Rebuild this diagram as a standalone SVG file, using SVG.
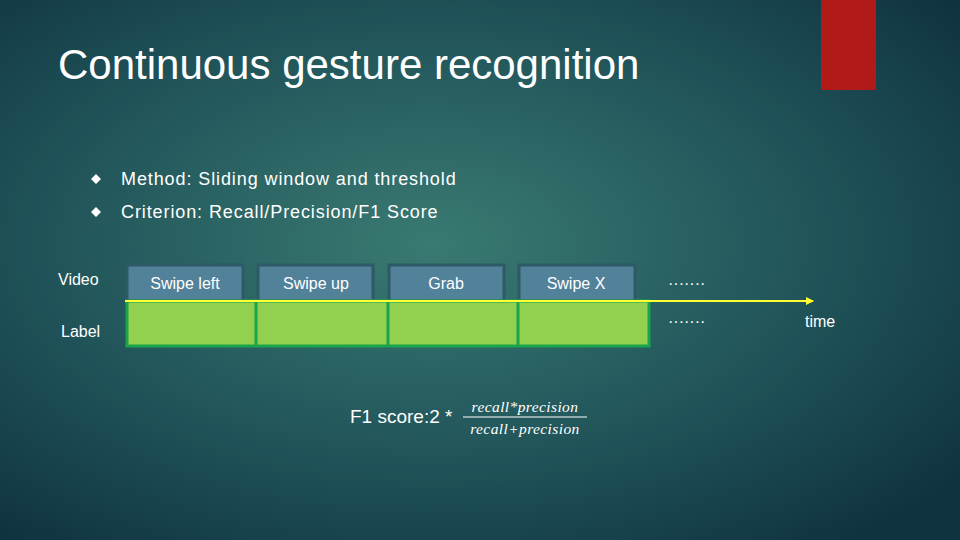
<svg xmlns="http://www.w3.org/2000/svg" width="960" height="540" viewBox="0 0 960 540">
<defs>
<radialGradient id="bg" cx="0.45" cy="0.45" r="0.7">
<stop offset="0" stop-color="#3a7a72"/>
<stop offset="0.6" stop-color="#1f5258"/>
<stop offset="1" stop-color="#103340"/>
</radialGradient>
<marker id="ah" markerWidth="8" markerHeight="8" refX="7" refY="4" orient="auto" markerUnits="userSpaceOnUse"><path d="M0,0 L8,4 L0,8 z" fill="#ffff33"/></marker>
<style>
text{font-family:"Liberation Sans",Arial,sans-serif;fill:#fff}
.v{fill:#52819a;stroke:#2d5a66;stroke-width:3}
.vt{font-size:16px;text-anchor:middle}
.b{font-size:18px;letter-spacing:0.9px}
.m{font-family:"Liberation Serif",serif;font-style:italic;font-size:15.5px;text-anchor:middle;letter-spacing:0.4px}
</style>
</defs>
<rect width="960" height="540" fill="url(#bg)"/>
<rect x="821" y="0" width="55" height="90" fill="#b01a18"/>
<text x="58" y="79" font-size="42">Continuous gesture recognition</text>
<path d="M96,174 l5,5 l-5,5 l-5,-5 z M96,207 l5,5 l-5,5 l-5,-5 z" fill="#fff"/>
<text x="121" y="185" class="b">Method: Sliding window and threshold</text>
<text x="121" y="218" class="b">Criterion: Recall/Precision/F1 Score</text>
<text x="58" y="285" font-size="16">Video</text>
<text x="61" y="337" font-size="16">Label</text>
<g id="video">
<rect class="v" x="127" y="265" width="116" height="36"/><text class="vt" x="185" y="289">Swipe left</text>
<rect class="v" x="258" y="265" width="115" height="36"/><text class="vt" x="316" y="289">Swipe up</text>
<rect class="v" x="389" y="265" width="115" height="36"/><text class="vt" x="446" y="289">Grab</text>
<rect class="v" x="519" y="265" width="116" height="36"/><text class="vt" x="576" y="289">Swipe X</text>
</g>
<g id="label">
<rect x="127" y="301" width="522" height="45" fill="#92d050" stroke="#1aa54a" stroke-width="3"/>
<path d="M256,301 V346 M388,301 V346 M518,301 V346" stroke="#1aa54a" stroke-width="3"/>
</g>
<text x="668" y="289" font-size="16">·······</text>
<text x="668" y="327" font-size="16">·······</text>
<g id="connectors"><line x1="125" y1="301" x2="813" y2="301" stroke="#ffff33" stroke-width="2" marker-end="url(#ah)"/></g>
<text x="805" y="327" font-size="16">time</text>
<text x="350" y="423" font-size="19" fill="#fff">F1 score:2 *</text>
<text class="m" x="525" y="412">recall*precision</text>
<line x1="463" y1="417" x2="587" y2="417" stroke="#fff" stroke-width="1.2"/>
<text class="m" x="525" y="434">recall+precision</text>
</svg>
